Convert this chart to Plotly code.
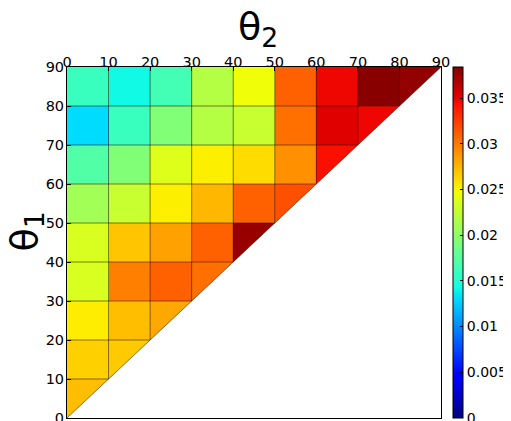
import plotly.graph_objects as go

# bin edges (degrees)
edges = [0, 10, 20, 30, 40, 50, 60, 70, 80, 90]
tick_vals = [0, 10, 20, 30, 40, 50, 60, 70, 80, 90]
cbar_vals = [0, 0.005, 0.01, 0.015, 0.02, 0.025, 0.03, 0.035]
cbar_text = ["0", "0.005", "0.01", "0.015", "0.02", "0.025", "0.03", "0.035"]

# values per theta1 bin (rows bottom->top), columns theta2 bins 0..i
row_0 = [0.0272]
row_10 = [0.0265, 0.0267]
row_20 = [0.0253, 0.0272, 0.0281]
row_30 = [0.0235, 0.0298, 0.0310, 0.0304]
row_40 = [0.0235, 0.0269, 0.0284, 0.0310, 0.0376]
row_50 = [0.0210, 0.0227, 0.0252, 0.0275, 0.0310, 0.0317]
row_60 = [0.0172, 0.0194, 0.0238, 0.0252, 0.0260, 0.0291, 0.0343]
row_70 = [0.0131, 0.0161, 0.0194, 0.0218, 0.0227, 0.0304, 0.0352, 0.0347]
row_80 = [0.0161, 0.0142, 0.0165, 0.0218, 0.0246, 0.0310, 0.0347, 0.0381, 0.0378]
rows = [row_0, row_10, row_20, row_30, row_40, row_50, row_60, row_70, row_80]

zmax = 0.0384
n = len(edges) - 1
z = [r + [None] * (n - len(r)) for r in rows]

# matplotlib 'jet' colormap
jet_r = [(0, 0), (0.35, 0), (0.66, 1), (0.89, 1), (1, 0.5)]
jet_g = [(0, 0), (0.125, 0), (0.375, 1), (0.64, 1), (0.91, 0), (1, 0)]
jet_b = [(0, 0.5), (0.11, 1), (0.34, 1), (0.65, 0), (1, 0)]


def interp(pts, t):
    for (x0, y0), (x1, y1) in zip(pts[:-1], pts[1:]):
        if x0 <= t <= x1:
            return y0 + (y1 - y0) * (t - x0) / (x1 - x0) if x1 > x0 else y1
    return pts[-1][1]


stops = sorted(set([p[0] for p in jet_r + jet_g + jet_b]))
jet = [[t, "rgb(%d,%d,%d)" % (round(255 * interp(jet_r, t)),
                              round(255 * interp(jet_g, t)),
                              round(255 * interp(jet_b, t)))] for t in stops]

fig = go.Figure()
fig.add_trace(go.Heatmap(
    x=edges, y=edges, z=z, zmin=0, zmax=zmax, colorscale=jet,
    hoverongaps=False,
    colorbar=dict(x=1.032, xanchor="left", y=0.5, yanchor="middle",
                  len=1, lenmode="fraction", thickness=10,
                  outlinewidth=1, outlinecolor="black",
                  tickmode="array", tickvals=cbar_vals, ticktext=cbar_text,
                  ticks="inside", ticklen=3, tickcolor="black",
                  ticklabeloverflow="allow",
                  tickfont=dict(family="DejaVu Sans", size=14, color="black"),
                  xpad=0, ypad=0)))

# white mask over the lower-right half of diagonal cells
fig.add_trace(go.Scatter(
    x=[edges[0], edges[-1], edges[-1], edges[0]],
    y=[edges[0], edges[0], edges[-1], edges[0]],
    fill="toself", fillcolor="white", mode="lines",
    line=dict(width=0, color="white"), hoverinfo="skip", showlegend=False))

# cell borders
gx, gy = [], []
for e in edges[1:-1]:
    gx += [e, e, None]
    gy += [e, edges[-1], None]
    gx += [edges[0], e, None]
    gy += [e, e, None]
gx += [edges[0], edges[-1]]
gy += [edges[0], edges[-1]]
fig.add_trace(go.Scatter(x=gx, y=gy, mode="lines",
                         line=dict(color="rgba(40,20,0,0.55)", width=1),
                         hoverinfo="skip", showlegend=False))

axis_common = dict(range=[0, 90], tickvals=tick_vals, ticks="inside",
                   ticklen=4, tickcolor="black", showgrid=False, zeroline=False,
                   showline=True, linecolor="black", linewidth=1, mirror=True,
                   automargin=False, ticklabeloverflow="allow",
                   tickfont=dict(family="DejaVu Sans", size=14.5, color="black"))
fig.update_xaxes(side="top", ticklabelstandoff=-7, **axis_common)
fig.update_yaxes(ticklabelstandoff=-1, **axis_common)

fig.add_annotation(text="θ<sub>2</sub>", xref="paper", yref="paper",
                   x=0.51, y=1.0, yanchor="bottom", yshift=12, showarrow=False,
                   font=dict(family="DejaVu Sans", size=38, color="black"))
fig.add_annotation(text="θ<sub>1</sub>", xref="paper", yref="paper",
                   x=0, y=0.53, xanchor="right", xshift=-14, showarrow=False,
                   textangle=-90,
                   font=dict(family="DejaVu Sans", size=38, color="black"))

fig.update_layout(width=503, height=413,
                  margin=dict(l=59, r=70, t=59, b=3, autoexpand=False),
                  plot_bgcolor="white", paper_bgcolor="white")
fig.write_html("out.html")
